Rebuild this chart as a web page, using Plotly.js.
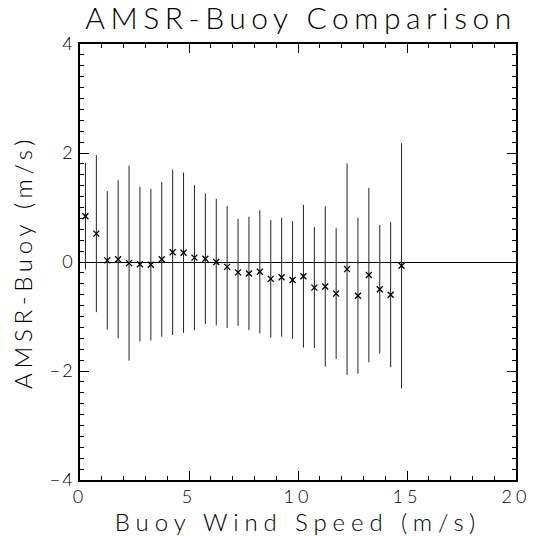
<!DOCTYPE html>
<html>
<head>
<meta charset="utf-8">
<script src="https://cdn.plot.ly/plotly-3.0.1.min.js"></script>
<style>
  html, body { margin: 0; padding: 0; background: #fff; }
  #chart { width: 535px; height: 536px; }
</style>
</head>
<body>
<div id="chart"></div>
<script>
// Bin centres of buoy wind speed (m/s)
const windSpeed = [0.25, 0.75, 1.25, 1.75, 2.25, 2.75, 3.25, 3.75, 4.25, 4.75,
                   5.25, 5.75, 6.25, 6.75, 7.25, 7.75, 8.25, 8.75, 9.25, 9.75,
                   10.25, 10.75, 11.25, 11.75, 12.25, 12.75, 13.25, 13.75, 14.25, 14.75];
// Mean AMSR minus buoy difference in each bin (m/s)
const meanDiff = [0.84, 0.52, 0.03, 0.05, -0.02, -0.04, -0.05, 0.05, 0.18, 0.17,
                  0.08, 0.06, 0.00, -0.09, -0.19, -0.21, -0.18, -0.31, -0.28, -0.33,
                  -0.26, -0.47, -0.45, -0.58, -0.13, -0.62, -0.24, -0.50, -0.60, -0.07];
// Standard deviation of the difference in each bin (m/s)
const stdDiff = [0.98, 1.44, 1.27, 1.45, 1.79, 1.42, 1.39, 1.42, 1.52, 1.47,
                 1.33, 1.20, 1.16, 1.12, 0.98, 1.04, 1.13, 1.08, 1.09, 1.08,
                 1.31, 1.11, 1.47, 1.20, 1.94, 1.43, 1.60, 1.18, 1.33, 2.25];

const FONT = 'Lato, Liberation Sans, sans-serif';
const WEIGHT = 300;

const trace = {
  x: windSpeed,
  y: meanDiff,
  type: 'scatter',
  mode: 'markers',
  marker: { symbol: 'x-thin-open', size: 6, color: '#000', line: { color: '#000', width: 1.3 } },
  error_y: { type: 'data', array: stdDiff, visible: true, color: '#222', thickness: 1, width: 0 },
  hoverinfo: 'x+y'
};

const layout = {
  width: 535, height: 536,
  margin: { l: 80, r: 19, t: 44, b: 56 },
  showlegend: false,
  title: {
    text: 'AMSR-Buoy Comparison',
    font: { family: FONT, weight: WEIGHT, size: 30, color: '#000' },
    x: 0.507, xanchor: 'center', xref: 'paper',
    y: 1 - 18 / 536, yref: 'container', yanchor: 'middle'
  },
  xaxis: {
    range: [0, 20], dtick: 5, ticks: 'inside', ticklen: 9, tickcolor: '#000', tickwidth: 1,
    showline: true, mirror: 'ticks', linecolor: '#000', linewidth: 1.5,
    showgrid: false, zeroline: false,
    minor: { dtick: 1, ticks: 'inside', ticklen: 4, tickcolor: '#000', tickwidth: 1 },
    tickfont: { family: FONT, weight: WEIGHT, size: 18, color: '#000' },
    title: { text: 'Buoy Wind Speed (m/s)', font: { family: FONT, weight: WEIGHT, size: 24, color: '#000' }, standoff: 9 }
  },
  yaxis: {
    range: [-4, 4], dtick: 2, ticks: 'inside', ticklen: 9, tickcolor: '#000', tickwidth: 1,
    showline: true, mirror: 'ticks', linecolor: '#000', linewidth: 1.5,
    showgrid: false, zeroline: true, zerolinecolor: '#000', zerolinewidth: 1.2,
    minor: { dtick: 0.2, ticks: 'inside', ticklen: 4, tickcolor: '#000', tickwidth: 1 },
    tickfont: { family: FONT, weight: WEIGHT, size: 18, color: '#000' },
    title: { text: 'AMSR-Buoy (m/s)', font: { family: FONT, weight: WEIGHT, size: 24, color: '#000' }, standoff: 14 }
  }
};

Plotly.newPlot('chart', [trace], layout, { displayModeBar: false }).then(function (gd) {
  // Wide character spacing for the plain stroke lettering
  const spacing = [['.gtitle', '5.5px'], ['.xtitle', '5.9px'], ['.ytitle', '4.7px'],
                   ['.xtick text', '4px'], ['.ytick text', '2px']];
  spacing.forEach(function (s) {
    gd.querySelectorAll(s[0]).forEach(function (el) { el.style.letterSpacing = s[1]; });
  });
});
</script>
</body>
</html>
